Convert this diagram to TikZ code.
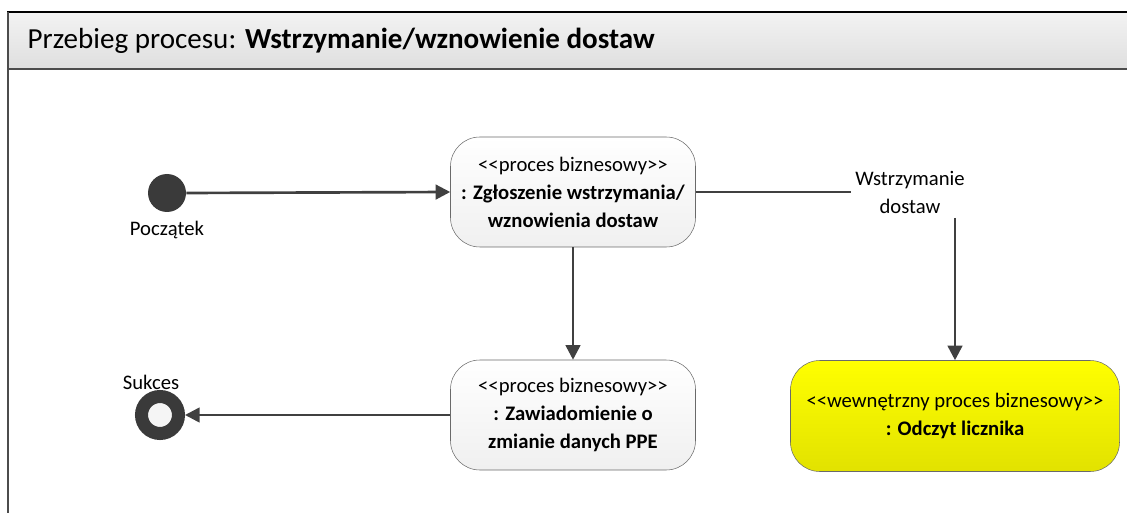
\documentclass[tikz,border=0pt]{standalone}
\usepackage{fontspec}
\setmainfont{Carlito}
\usepackage{xcolor}
\usetikzlibrary{arrows.meta,positioning}

\definecolor{lineclr}{HTML}{404040}
\definecolor{dotclr}{HTML}{3A3A3A}
\definecolor{edgeclr}{HTML}{6A6A6A}
\definecolor{yelltop}{HTML}{FFFF00}
\definecolor{yellbot}{HTML}{E2E200}
\newcommand\stereo[1]{<\kern0pt<#1>\kern0pt>}

\begin{document}
\begin{tikzpicture}[
    x=0.75pt,y=-0.75pt,
    font=\fontsize{15.5}{21}\selectfont,
    >={Triangle[length=11pt,width=11pt]},
    proc/.style={draw=edgeclr,rounded corners=22pt,minimum width=183.75pt,minimum height=82.5pt,align=center,inner sep=2pt,top color=white,bottom color=gray!12},
    inproc/.style={proc,minimum width=246.75pt,minimum height=83.25pt,top color=yelltop,bottom color=yellbot},
    arrow/.style={->,draw=lineclr,line width=2pt},
    flow/.style={draw=lineclr,line width=2pt}
  ]
    \useasboundingbox (0,0) rectangle (1127,513);

    % frame and title bar
    \shade[top color=gray!10,bottom color=gray!25] (8,12) rectangle (1140,69);
    \draw[black,line width=2pt] (7,12) -- (1140,12);
    \draw[gray!60!black,line width=1.5pt] (8,69) -- (1140,69);
    \draw[gray!60!black,line width=1.2pt] (8,12) -- (8,520);
    \node[anchor=west,font=\fontsize{21.8}{24}\selectfont] (ttl) at (23,41) {Przebieg procesu: \textbf{Wstrzymanie/wznowienie dostaw}};

    % start / end
    \node[circle,fill=dotclr,minimum size=28.5pt,inner sep=0] (poc) at (167,193) {};
    \node (pocl) at (167,230) {Początek};
    \node[circle,draw=dotclr,line width=9.75pt,fill=gray!8,minimum size=27.75pt,inner sep=0,outer sep=auto] (kon) at (160,415) {};
    \node (konl) at (151,382) {Sukces};

    % activities
    \node[proc] (zgl) at (573,192) {\stereo{proces biznesowy}\\\textbf{: Zgłoszenie wstrzymania/}\\\textbf{wznowienia dostaw}};
    \node[proc] (zaw) at (573,415) {\stereo{proces biznesowy}\\\textbf{: Zawiadomienie o}\\\textbf{zmianie danych PPE}};
    \node[inproc] (odc) at (955,416) {\stereo{wewnętrzny proces biznesowy}\\\textbf{: Odczyt licznika}};

    \node[align=center] (grd) at (910,192) {Wstrzymanie\\dostaw};

    \draw[arrow] (poc.east) -- (zgl.west);
    \draw[arrow] (zgl.south) -- (zaw.north);
    \draw[arrow] (zaw.west) -- (kon.east);
    \draw[flow] (zgl.east) -- (grd.west);
    \draw[arrow] (grd.south -| odc.north) -- (odc.north);
\end{tikzpicture}
\end{document}
